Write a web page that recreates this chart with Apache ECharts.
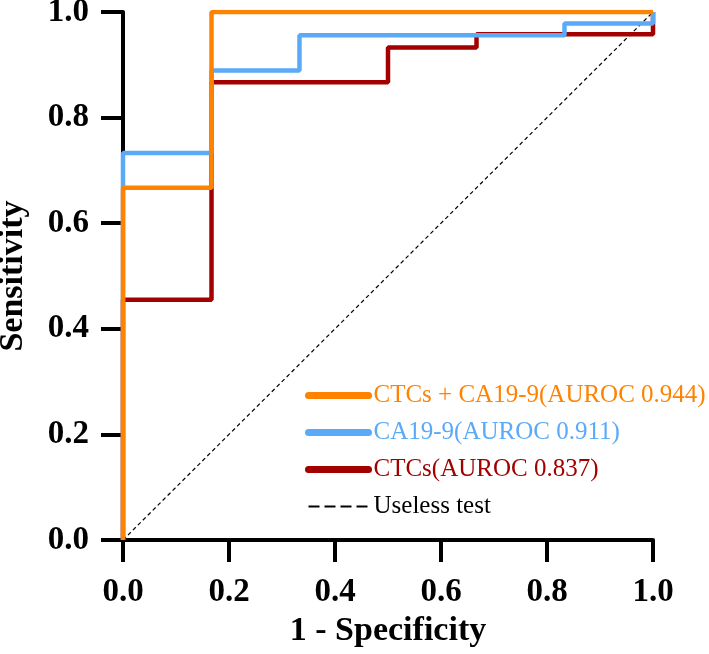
<!DOCTYPE html>
<html>
<head>
<meta charset="utf-8">
<script src="https://cdn.jsdelivr.net/npm/echarts@6/dist/echarts.min.js"></script>
<style>html,body{margin:0;padding:0;background:#fff}#c{width:709px;height:654px}</style>
</head>
<body>
<div id="c"></div>
<script>
const tickLabels = ['0.0','0.2','0.4','0.6','0.8','1.0'];
const seriesNames = ['CTCs + CA19-9(AUROC 0.944)','CA19-9(AUROC 0.911)','CTCs(AUROC 0.837)','Useless test'];
const colors = ['#FF8200','#5AAAF8','#A30000','#000000'];
const comboROC = [[0,0],[0,0.667],[0.167,0.667],[0.167,1.0],[1,1]];
const ca199ROC = [[0,0],[0,0.733],[0.167,0.733],[0.167,0.889],[0.333,0.889],[0.333,0.956],[0.833,0.956],[0.833,0.978],[1,0.978],[1,1]];
const ctcsROC = [[0,0],[0,0.455],[0.167,0.455],[0.167,0.867],[0.5,0.867],[0.5,0.933],[0.667,0.933],[0.667,0.958],[1,0.958],[1,1]];
const uselessLine = [[0,0],[1,1]];

const chart = echarts.init(document.getElementById('c'), null, {renderer:'canvas'});
const font = 'Liberation Serif';
const axisCommon = {
  type:'value', min:0, max:1, interval:0.2,
  axisLine:{show:true, onZero:false, lineStyle:{color:'#000', width:4}},
  axisTick:{show:true, length:22, lineStyle:{color:'#000', width:4}},
  splitLine:{show:false},
  axisLabel:{fontFamily:font, fontWeight:'bold', fontSize:33, color:'#000',
    formatter:v=>tickLabels[Math.round(v*5)]},
  nameLocation:'middle',
  nameTextStyle:{fontFamily:font, fontWeight:'bold', fontSize:34, color:'#000'}
};
chart.setOption({
  animation:false,
  backgroundColor:'#fff',
  grid:{left:123, right:56, top:12, bottom:114, containLabel:false, outerBoundsMode:'none'},
  xAxis:Object.assign({}, axisCommon, {name:'1 - Specificity', nameGap:74,
    axisLabel:Object.assign({}, axisCommon.axisLabel, {margin:36})}),
  yAxis:Object.assign({}, axisCommon, {name:'Sensitivity', nameGap:93,
    axisLabel:Object.assign({}, axisCommon.axisLabel, {margin:34})}),
  legend:{
    orient:'vertical', left:300, top:378, itemWidth:60, itemHeight:14, itemGap:12,
    itemStyle:{opacity:0},
    textStyle:{fontFamily:font, fontSize:25},
    data:[
      {name:seriesNames[0], textStyle:{color:colors[0]}, lineStyle:{width:7, cap:'round'}},
      {name:seriesNames[1], textStyle:{color:colors[1]}, lineStyle:{width:7, cap:'round'}},
      {name:seriesNames[2], textStyle:{color:colors[2]}, lineStyle:{width:7, cap:'round'}},
      {name:seriesNames[3], textStyle:{color:'#000'}, lineStyle:{width:2, type:[11,5]}}
    ]
  },
  series:[
    {name:seriesNames[0], type:'line', data:comboROC, symbol:'none', z:5,
      lineStyle:{color:colors[0], width:4.5}, itemStyle:{color:colors[0]}},
    {name:seriesNames[1], type:'line', data:ca199ROC, symbol:'none', z:4,
      lineStyle:{color:colors[1], width:4.5}, itemStyle:{color:colors[1]}},
    {name:seriesNames[2], type:'line', data:ctcsROC, symbol:'none', z:3,
      lineStyle:{color:colors[2], width:4.5}, itemStyle:{color:colors[2]}},
    {name:seriesNames[3], type:'line', data:uselessLine, symbol:'none', z:2,
      lineStyle:{color:'#000', width:1.2, type:[4,3]}, itemStyle:{color:'#000'}}
  ]
});
</script>
</body>
</html>
